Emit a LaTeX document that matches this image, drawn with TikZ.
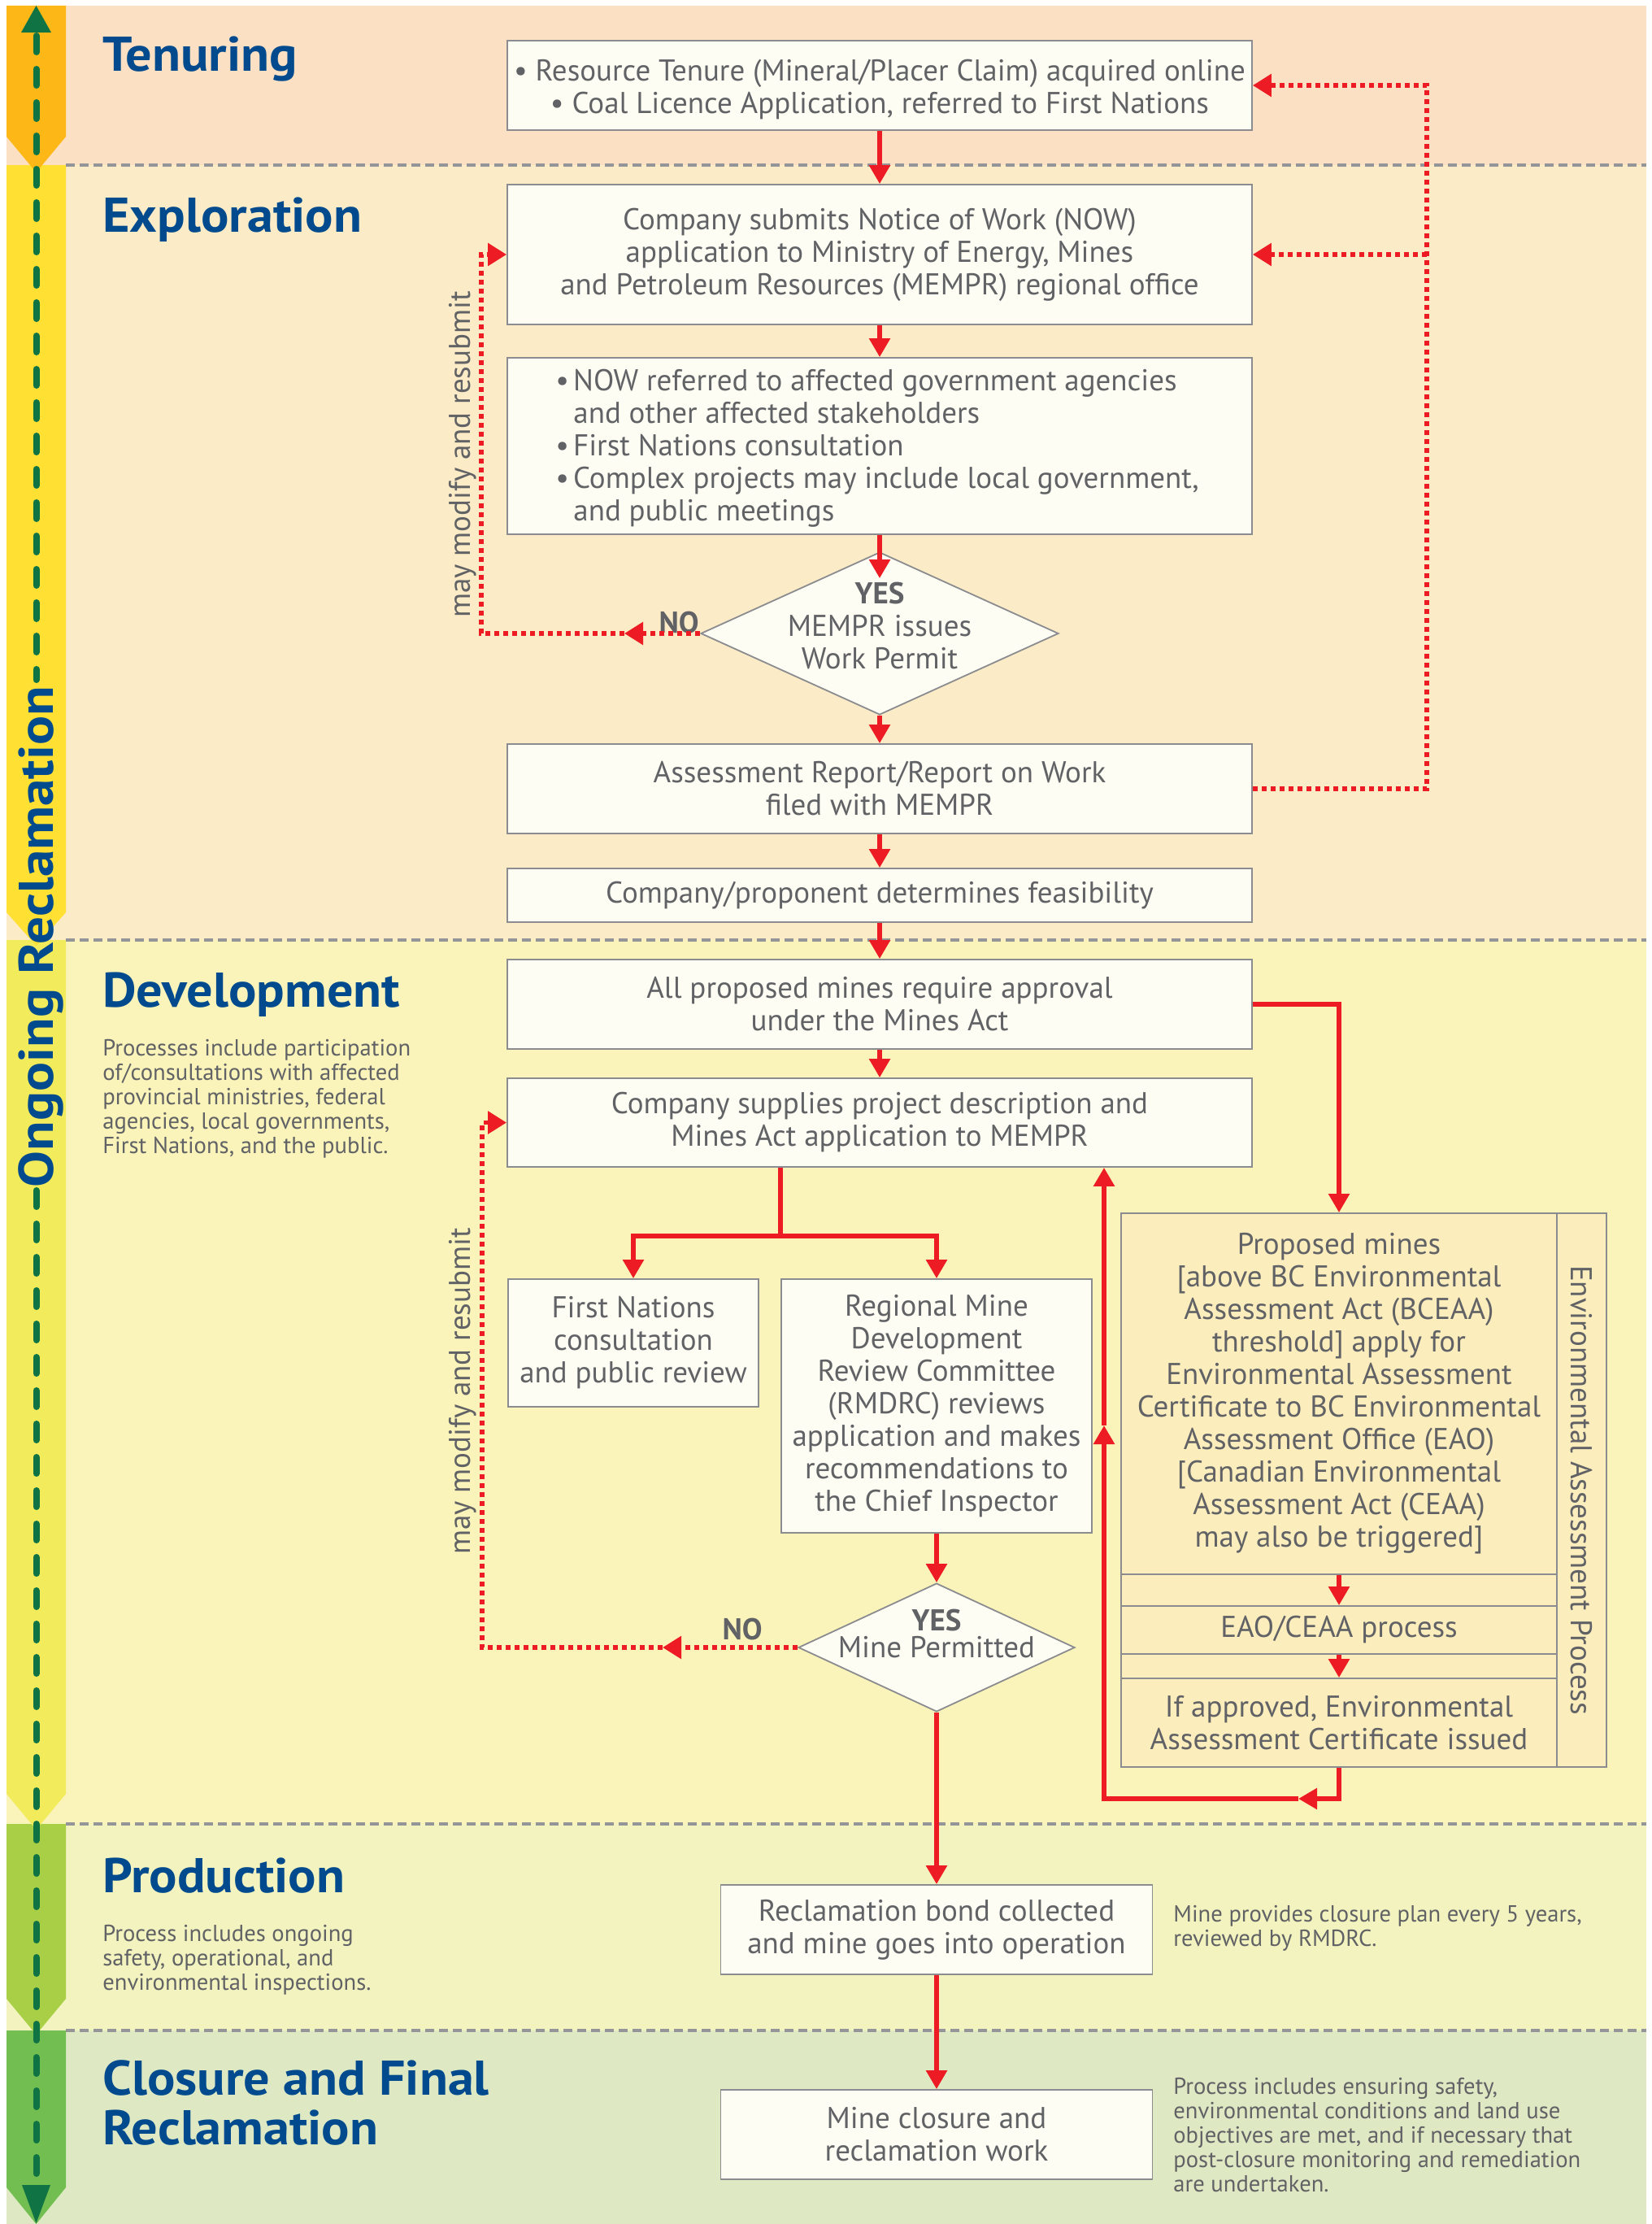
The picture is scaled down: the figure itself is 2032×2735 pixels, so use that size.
\documentclass[tikz,border=0pt]{standalone}
\usepackage{fontspec}
\setmainfont{PT Sans}
\newfontfamily\headfam{PT Sans}[FakeStretch=1.07]
\newfontfamily\ongofam{PT Sans}[FakeStretch=1.12]
\usetikzlibrary{arrows.meta,shapes.geometric}
\definecolor{txtgray}{HTML}{616265}
\definecolor{hblue}{HTML}{004A8D}
\definecolor{ared}{HTML}{ED1C24}
\definecolor{bgT}{HTML}{FBE0C3}
\definecolor{bgE}{HTML}{FBEBC6}
\definecolor{bgD}{HTML}{FAF4BA}
\definecolor{bgP}{HTML}{F3F3BF}
\definecolor{bgC}{HTML}{DEE9C4}
\definecolor{stT}{HTML}{FDB817}
\definecolor{stE}{HTML}{FFE033}
\definecolor{stD}{HTML}{F2EB5B}
\definecolor{stP}{HTML}{A8CF46}
\definecolor{stC}{HTML}{72BE50}
\definecolor{dgreen}{HTML}{0F7343}
\definecolor{boxfill}{HTML}{FEFDF3}
\definecolor{boxline}{HTML}{8A8C8F}
\definecolor{eafill}{HTML}{FCEDBD}
\definecolor{sepgray}{HTML}{939598}
\newcommand{\mlines}[2][l]{\begin{tabular}[t]{@{}#1@{}}#2\end{tabular}}
\newcommand{\bxfont}{\fontsize{18.5}{20}\selectfont}
\newcommand{\hdfont}{\headfam\fontsize{30}{30.5}\selectfont\bfseries}
\newcommand{\dsfont}{\fontsize{14.3}{15}\selectfont}
\begin{document}
\begin{tikzpicture}[x=0.5pt,y=-0.5pt,
 pbox/.style={draw=boxline, line width=0.9pt, fill=boxfill, inner sep=0pt, align=center, text=txtgray, font=\bxfont},
 eabox/.style={draw=boxline, line width=0.9pt, fill=eafill, inner sep=0pt, align=center, text=txtgray, font=\bxfont},
 dia/.style={diamond, draw=boxline, line width=0.9pt, fill=boxfill, inner sep=0pt},
 lbl/.style={inner sep=0pt, text=txtgray, font=\bxfont},
 phasehead/.style={inner sep=0pt, text=hblue, font=\hdfont, anchor=base west},
 desctext/.style={inner sep=0pt, text=txtgray, font=\dsfont, anchor=base west},
 lin/.style={draw=ared, line width=2.75pt},
 arr/.style={lin, -{Triangle[length=11.5pt,width=12.5pt]}},
 dotln/.style={draw=ared, line width=2.8pt, dash pattern=on 3pt off 2.5pt},
 dotarr/.style={dotln, -{Triangle[length=11.5pt,width=13.5pt]}},
 bandsep/.style={draw=sepgray, line width=2pt, dash pattern=on 5.5pt off 3pt},
 gdash/.style={draw=dgreen, line width=4pt, line cap=round, dash pattern=on 10pt off 10.5pt}
]
% canvas
\fill[white] (0,0) rectangle (2032,2735);
\useasboundingbox (0,0) rectangle (2032,2735);
% bands
\fill[bgT] (8,7) rectangle (2025,203);
\fill[bgE] (8,203) rectangle (2025,1156);
\fill[bgD] (8,1156) rectangle (2025,2243);
\fill[bgP] (8,2243) rectangle (2025,2497);
\fill[bgC] (8,2497) rectangle (2025,2735);
% left strips
\fill[stC] (8,2497) -- (81,2497) -- (81,2690) -- (44.5,2735) -- (8,2690) -- cycle;
\fill[stP] (8,2243) -- (81,2243) -- (81,2458) -- (44.5,2502) -- (8,2458) -- cycle;
\fill[stD] (8,1156) -- (81,1156) -- (81,2206) -- (44.5,2250) -- (8,2206) -- cycle;
\fill[stE] (8,203) -- (81,203) -- (81,1122) -- (44.5,1163) -- (8,1122) -- cycle;
\fill[stT] (8,7) -- (81,7) -- (81,168) -- (44.5,212) -- (8,168) -- cycle;
% band separators
\foreach \yy in {203,1156,2243,2497} \draw[bandsep] (81,\yy) -- (2025,\yy);
% ongoing reclamation arrow
\draw[gdash] (44.5,44) -- (44.5,836);
\draw[gdash] (44.5,1464) -- (44.5,2678);
\fill[dgreen] (44.5,7) -- (63,40) -- (26,40) -- cycle;
\fill[dgreen] (27,2687) -- (62,2687) -- (44.5,2734) -- cycle;
\node[rotate=90, anchor=base, inner sep=0pt, text=hblue, font=\ongofam\fontsize{30}{31}\selectfont\bfseries] (ongo) at (65,1152) {Ongoing Reclamation};
% headings
\node[phasehead] (hT) at (126,88) {Tenuring};
\node[phasehead] (hE) at (126,285) {Exploration};
\node[phasehead] (hD) at (126,1238) {Development};
\node[phasehead] (hP) at (126,2327) {Production};
\node[phasehead] (hC) at (126,2576) {\mlines{Closure and Final\\Reclamation}};
% descriptions
\node[desctext] (dD) at (126,1298) {\mlines{Processes include participation\\of/consultations with affected\\provincial ministries, federal\\agencies, local governments,\\First Nations, and the public.}};
\node[desctext] (dP) at (126,2387) {\mlines{Process includes ongoing\\safety, operational, and\\environmental inspections.}};
\node[desctext] (dPr) at (1443,2363) {\mlines{Mine provides closure plan every 5 years,\\reviewed by RMDRC.}};
\node[desctext] (dCr) at (1443,2575) {\mlines{Process includes ensuring safety,\\environmental conditions and land use\\objectives are met, and if necessary that\\post-closure monitoring and remediation\\are undertaken.}};
% main column boxes
\node[pbox, minimum width=458pt, minimum height=55pt] (b1) at (1082,105) {};
\node[lbl, anchor=base] (b1t) at (1082,100) {\mlines[c]{\textbullet\ Resource Tenure (Mineral/Placer Claim) acquired online\\\textbullet\ Coal Licence Application, referred to First Nations}};
\node[pbox, minimum width=458pt, minimum height=86pt] (b2) at (1082,313) {Company submits Notice of Work (NOW)\\application to Ministry of Energy, Mines\\and Petroleum Resources (MEMPR) regional office};
\node[pbox, minimum width=458pt, minimum height=108.5pt] (b3) at (1082,548.5) {};
\node[lbl, anchor=base west] (b3t) at (683,480) {\mlines{\textbullet\hspace{2.5pt}NOW referred to affected government agencies\\\hspace*{11pt}and other affected stakeholders\\\textbullet\hspace{2.5pt}First Nations consultation\\\textbullet\hspace{2.5pt}Complex projects may include local government,\\\hspace*{11pt}and public meetings}};
\node[dia, minimum width=220pt, minimum height=100pt] (d1) at (1082,779) {};
\node[lbl, anchor=base] (d1t) at (1082,742) {\mlines[c]{\textbf{YES}\\MEMPR issues\\Work Permit}};
\node[lbl, font=\bxfont\bfseries, anchor=base east] (no1) at (860,778) {NO};
\node[pbox, minimum width=458pt, minimum height=55pt] (b4) at (1082,970) {Assessment Report/Report on Work\\filed with MEMPR};
\node[pbox, minimum width=458pt, minimum height=33pt] (b5) at (1082,1101) {Company/proponent determines feasibility};
\node[pbox, minimum width=458pt, minimum height=55pt] (b6) at (1082,1235) {All proposed mines require approval\\under the Mines Act};
\node[pbox, minimum width=458pt, minimum height=54.5pt] (b7) at (1082,1380.5) {Company supplies project description and\\Mines Act application to MEMPR};
\node[pbox, minimum width=154pt, minimum height=78.5pt] (b8) at (779,1651.5) {First Nations\\consultation\\and public review};
\node[pbox, minimum width=191pt, minimum height=156pt] (b9) at (1152,1729) {Regional Mine\\Development\\Review Committee\\(RMDRC) reviews\\application and makes\\recommendations to\\the Chief Inspector};
\node[dia, minimum width=170pt, minimum height=79pt] (d2) at (1152,2026) {};
\node[lbl, anchor=base] (d2t) at (1152,2005) {\mlines[c]{\textbf{YES}\\[-3.5pt]Mine Permitted}};
\node[lbl, font=\bxfont\bfseries, anchor=base east] (no2) at (938,2016) {NO};
\node[pbox, minimum width=265.5pt, minimum height=55pt] (b10) at (1152,2373) {Reclamation bond collected\\and mine goes into operation};
\node[pbox, minimum width=265.5pt, minimum height=55pt] (b11) at (1152,2625) {Mine closure and\\reclamation work};
% environmental assessment panel
\node[eabox, minimum width=298.5pt, minimum height=340.5pt] (eap) at (1677.5,1832.5) {};
\node[eabox, minimum width=268pt, minimum height=222pt] (ea1) at (1647,1714) {Proposed mines\\{[}above BC Environmental\\Assessment Act (BCEAA)\\threshold] apply for\\Environmental Assessment\\Certificate to BC Environmental\\Assessment Office (EAO)\\{[}Canadian Environmental\\Assessment Act (CEAA)\\may also be triggered]};
\node[eabox, minimum width=268pt, minimum height=29.5pt] (ea2) at (1647,2004.5) {EAO/CEAA process};
\node[eabox, minimum width=268pt, minimum height=54.5pt] (ea3) at (1647,2118.5) {If approved, Environmental\\Assessment Certificate issued};
\node[eabox, rotate=-90, minimum width=340.5pt, minimum height=30.5pt] (eal) at (1945.5,1832.5) {Environmental Assessment Process};
% side labels
\node[lbl, rotate=90, anchor=base] (mm1) at (578,559) {may modify and resubmit};
\node[lbl, rotate=90, anchor=base] (mm2) at (578,1711) {may modify and resubmit};
% solid connectors
\draw[arr] (b1.south) -- (b2.north);
\draw[arr] (b2.south) -- (b3.north);
\draw[arr, shorten >=-16.5pt] (b3.south) -- (d1.north);
\draw[arr] (d1.south) -- (b4.north);
\draw[arr] (b4.south) -- (b5.north);
\draw[arr] (b5.south) -- (b6.north);
\draw[arr] (b6.south) -- (b7.north);
\coordinate (sp) at (960,1520);
\draw[lin] (b7.south -| sp) -- (sp);
\draw[arr] (sp) -| (b8.north);
\draw[arr] (sp) -| (b9.north);
\draw[arr] (b9.south) -- (d2.north);
\draw[arr] (d2.south) -- (b10.north);
\draw[arr] (b10.south) -- (b11.north);
\draw[arr] (b6.east) -| (ea1.north);
\draw[arr] (ea1.south) -- (ea2.north);
\draw[arr] (ea2.south) -- (ea3.north);
\coordinate (ra) at (1597,2212);
\coordinate (rb) at (1358,1753);
\draw[arr] (ea3.south) |- (ra);
\draw[arr] (ra) -| (rb);
\draw[arr] (rb) -- (b7.south -| rb);
% dotted feedback connectors
\coordinate (na) at (768,779);
\coordinate (vxa) at (592,0);
\draw[dotarr] (d1.west) -- (na);
\draw[dotarr] (na) -| (b2.west -| vxa) -- (b2.west);
\coordinate (nb) at (815,2026);
\coordinate (vxb) at (593,0);
\draw[dotarr] (d2.west) -- (nb);
\draw[dotarr] (nb) -| (b7.west -| vxb) -- (b7.west);
\coordinate (vr) at (1755,0);
\draw[dotarr] (b4.east) -| (b1.east -| vr) -- (b1.east);
\draw[dotarr] (b2.east -| vr) -- (b2.east);
\end{tikzpicture}
\end{document}
